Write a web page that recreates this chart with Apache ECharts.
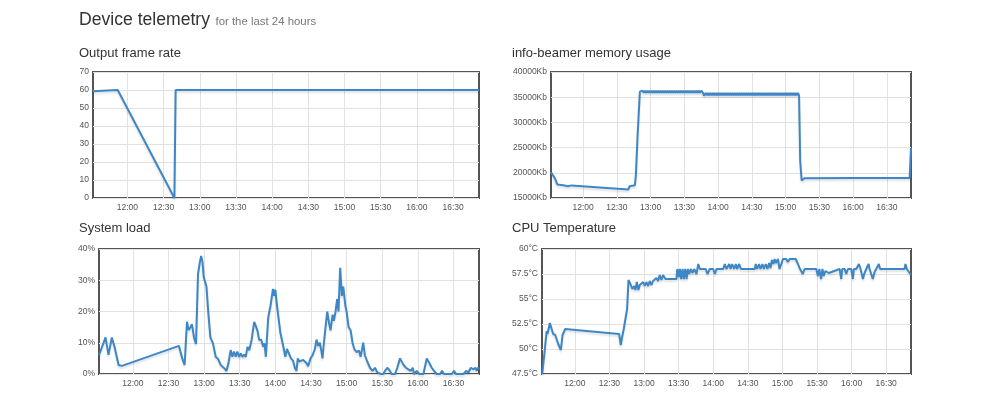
<!DOCTYPE html>
<html>
<head>
<meta charset="utf-8">
<script src="https://cdn.jsdelivr.net/npm/echarts@6/dist/echarts.min.js"></script>
<style>
html,body{margin:0;padding:0;background:#fff;}
#c{width:1000px;height:395px;}
</style>
</head>
<body>
<div id="c"></div>
<script>
// Time values are minutes since midnight
const timeTicks = [720, 750, 780, 810, 840, 870, 900, 930, 960, 990];
const xMin = 691.5, xMax = 1011.5;

const frameRate = [[691.5,59.3],[693,60],[712,60],[759,0],[760,60],[1011.5,60]];

const memoryKb = [
[691.5,20100],[695,18900],[697.1,17700],[702.4,17550],[706.8,17350],[708.3,17200],[709.7,17500],
[760.2,16700],[761.4,17350],[762.6,17500],[766.1,17550],[767,19700],[768.4,27000],[770.5,36100],
[771,36300],[772,35850],[773,36300],[774,35850],[775,36300],[776,35850],[777,36300],[778,35850],[779,36300],[780,35850],
[781,36300],[782,35850],[783,36300],[784,35850],[785,36300],[786,35850],[787,36300],[788,35850],[789,36300],[790,35850],
[791,36300],[792,35850],[793,36300],[794,35850],[795,36300],[796,35850],[797,36300],[798,35850],[799,36300],[800,35850],
[801,36300],[802,35850],[803,36300],[804,35850],[805,36300],[806,35850],[807,36300],[808,35850],[809,36300],[810,35850],
[811,36300],[812,35850],[813,36300],[814,35850],[815,36300],[816,35850],[817,36300],[818,35850],[819,36300],[820,35850],
[821,36300],[822,35850],[823,36300],[824,35850],[825,36300],[826.5,35900],[827.5,35300],
[829,35850],[830,35350],[831,35850],[832,35350],[833,35850],[834,35350],[835,35850],[836,35350],[837,35850],[838,35350],
[839,35850],[840,35350],[841,35850],[842,35350],[843,35850],[844,35350],[845,35850],[846,35350],[847,35850],[848,35350],
[849,35850],[850,35350],[851,35850],[852,35350],[853,35850],[854,35350],[855,35850],[856,35350],[857,35850],[858,35350],
[859,35850],[860,35350],[861,35850],[862,35350],[863,35850],[864,35350],[865,35850],[866,35350],[867,35850],[868,35350],
[869,35850],[870,35350],[871,35850],[872,35350],[873,35850],[874,35350],[875,35850],[876,35350],[877,35850],[878,35350],
[879,35850],[880,35350],[881,35850],[882,35350],[883,35850],[884,35350],[885,35850],[886,35350],[887,35850],[888,35350],
[889,35850],[890,35350],[891,35850],[892,35350],[893,35850],[894,35350],[895,35850],[896,35350],[897,35850],[898,35350],
[899,35850],[900,35350],[901,35850],[902,35350],[903,35850],[904,35350],[905,35850],[906,35350],[907,35850],[908,35350],
[909,35850],[910,35350],[911,35850],[912,35350],
[913,22400],[914.3,18500],[915.2,18200],[916.6,18900],[960,18950],[1010.3,18950],[1011.5,24900]
];

const systemLoad = [
[691.5,6],[697,11.7],[699.5,6.1],[702.3,11.7],[704.6,8.7],[708,2.9],[709.4,2.3],[710.8,2.6],[712.2,2],
[758.8,9],[761.6,5],[763.6,2.9],[765.6,16.7],[767,14.1],[768.4,14.9],[769.8,15.9],[771.5,11.7],[773.2,9.6],
[774.9,32],[776.3,35.5],[777.5,37.8],[778.6,36],[779.7,31],[780.8,31.5],[782,28],[783.6,19.4],[785.3,11.7],
[787.5,9.8],[789.8,5.5],[792,4.7],[794,2.9],[795.4,3.2],[797.1,1.8],[798.8,1],[800.5,3.4],[802.4,7.7],
[803.8,5.5],[805.2,7.2],[806.6,5.5],[808,7.2],[809.5,5.5],[810.9,6.6],[812.3,5.5],[813.7,6.2],[815.1,5.5],
[816.5,8.7],[818,7.6],[820,10.9],[822.2,16.7],[823.6,15.3],[825,13.8],[826.4,10.9],[828.1,11],[829.8,8.7],
[830.9,9.8],[832,5.5],[834,18],[836,22],[838,27.2],[839,25],[840,27],[841.4,21.9],[844.2,13.3],[846.5,9.2],
[848.4,5.5],[849.8,8],[851.2,7.7],[853.2,5],[854.9,4.3],[856.4,2],[857.8,1],[858.9,5],[860.2,4],[863.4,4.5],
[866.2,3.5],[867.6,2.5],[869.6,5],[871.3,6],[873.3,8],[874.7,11],[876.1,9],[877.5,10],[878.9,7],[879.7,5],
[880.9,10],[882.3,15],[883.7,20],[885.4,16],[886.5,14],[888.2,19],[889.3,17],[890.7,20],[892.1,24],[893.2,20],
[894.6,34],[896,25],[897.2,28],[898.9,22],[900,20],[901.7,15],[903.4,14],[905,10],[906.5,8],[908.4,7],
[910.4,7.5],[911.8,5.5],[914,10],[915.4,6],[917.4,4],[919.7,2],[921.9,1],[923.9,2],[925.9,0.5],[929,0],
[930.9,0],[932.3,1],[934.3,2],[936.5,1],[937.9,0],[940.8,0],[942.7,2],[945,5],[947.8,3],[950,2],[952,1.5],
[954,1],[955.7,2],[956.8,0],[959,1],[961.3,0],[964.7,0],[967.5,5],[969.7,3.5],[971.7,2],[973.7,1],[975.9,0],
[978.7,0],[980.4,1],[982.1,0],[988.6,0],[990.5,1],[992.2,0],[998.4,0],[1000.7,1],[1002.6,0.5],[1004.6,2],
[1006.8,1.5],[1008.5,2],[1009.6,1],[1010.8,2],[1011.5,1.5]
];

const cpuTemp = [
[691.7,47.5],[694,50],[695.5,51.8],[696.3,51.5],[697.2,52],[698.3,52.6],[699.8,52.4],[701.2,51.5],[703,51.4],
[705.6,50.5],[707.9,49.9],[709.3,51.4],[710.5,51.7],[711.6,52],
[758.4,51.5],[759.8,50.4],[761,51.2],[762.4,52],[763.9,52.2],[765.3,54],[766.5,56.9],[768.2,56.5],[769.9,56],
[771.4,56.3],[772.5,55.9],[773.7,56.7],[775.1,55.9],[776.3,56.4],[777.7,56.2],[779.2,56.7],[780.6,56.3],[782,56.7],
[783.5,56.3],[784.9,56.8],[786.4,56.4],[787.8,56.8],[789.3,56.6],[790.7,57.1],[792.2,56.8],[793.6,57.4],[795.1,56.9],
[796.5,57.4],[798.6,57],[808.1,57],[808.8,58],[810.2,57.2],[811.1,58],[812.2,57],[813.4,58],[814.5,57],[815.7,58],
[816.9,57],[818,58],[819.2,57.5],[820.6,58],[822.1,57.6],[823.5,58],[825.5,57.5],[827,58.5],[828.4,58],[833.5,58],
[835,57.5],[837,58],[839.9,58],[841.4,57.5],[842.8,58],[848.6,58],[850,58.5],[851.5,58],[853.8,58.5],[855,58],
[856.4,58.5],[858.1,58],[859.6,58.5],[860.7,58],[862.5,58.5],[864,58],[876,58],[876.9,58.5],[878.1,58],[879.8,58.5],
[881,58],[882.7,58.5],[883.9,58],[885.6,58.5],[887,58],[888.5,58.6],[889.7,58.1],[890.9,58.9],[892.3,58.5],[893.2,59],
[894.4,58.6],[896.1,59],[897.5,58],[899,58.5],[900.4,59],[903.3,59],[904.7,58.7],[905.1,58.5],[906.3,59],[911.5,59],
[913,59],[913.5,58.5],[914.6,58.6],[914.8,58.1],[916.3,58],[917.7,57.5],[919.2,58],[929.3,58],[930.8,57.3],[932,58],
[933.5,57],[934.7,58],[935.8,57.3],[937.3,57.8],[938.8,58],[940.2,57.6],[949.6,58],[951,57],[951.9,58],[954,58],
[955.3,57.5],[956.8,58],[959.7,58],[961.1,57],[962,58],[964,58],[966.3,58.5],[967.8,58],[969.8,57],[970.9,57.5],
[972.7,58],[974.7,58.5],[975.6,58],[977.3,58],[978.4,57],[979.9,57.7],[981.3,58],[983.6,58.5],[984.7,58],[1005.9,58],
[1006.7,58.5],[1007.9,58],[1009.6,58.1],[1011.5,57.4]
];

const LINE = '#3d87c7';
const TXT = '#545454';
const FONT = '"Liberation Sans", Arial, sans-serif';

function hhmm(v){
  const h = Math.floor(v/60), m = Math.round(v - h*60);
  return h + ':' + (m < 10 ? '0' + m : m);
}

const grids = [
  {left:93, top:72, width:386, height:126},
  {left:551, top:72, width:360, height:126},
  {left:99, top:249, width:380, height:125},
  {left:542, top:249, width:369, height:125}
].map(g => Object.assign(g, {show:true, borderColor:'#545454', borderWidth:2, backgroundColor:'transparent', containLabel:false, outerBoundsMode:'none'}));

function xAxis(i){
  return {
    type:'value', gridIndex:i, min:xMin, max:xMax,
    axisLine:{show:false},
    axisTick:{show:false, customValues:timeTicks},
    splitLine:{show:true, customValues:timeTicks, lineStyle:{color:'#e2e2e2', width:1}},
    axisLabel:{customValues:timeTicks, formatter:hhmm, color:TXT, fontSize:8.5, fontFamily:FONT, margin:5}
  };
}
function yAxis(i, min, max, interval, fmt){
  return {
    type:'value', gridIndex:i, min:min, max:max, interval:interval,
    axisLine:{show:false}, axisTick:{show:false},
    splitLine:{show:true, lineStyle:{color:'#e2e2e2', width:1}},
    axisLabel:{formatter:fmt, color:TXT, fontSize:8.5, fontFamily:FONT, margin:4}
  };
}
function series(i, data){
  return {
    type:'line', xAxisIndex:i, yAxisIndex:i, data:data, showSymbol:false, clip:false,
    lineStyle:{color:LINE, width:2, shadowColor:'rgba(0,0,0,0.13)', shadowBlur:2, shadowOffsetY:2},
    itemStyle:{color:LINE}, animation:false
  };
}
function title(text, x, baseline, size, color){
  return {type:'text', left:x, top:baseline - size*0.9, silent:true,
    style:{text:text, font:size + 'px ' + FONT, fill:color}};
}

const chart = echarts.init(document.getElementById('c'), null, {renderer:'canvas'});
chart.setOption({
  animation:false,
  backgroundColor:'#fff',
  graphic:[
    title('Device telemetry', 79, 26.7, 17.6, '#333'),
    title('for the last 24 hours', 215.5, 26.7, 11.4, '#777'),
    title('Output frame rate', 79, 58.3, 13, '#333'),
    title('info-beamer memory usage', 512, 58.3, 13, '#333'),
    title('System load', 79, 233.3, 13, '#333'),
    title('CPU Temperature', 512, 233.3, 13, '#333')
  ],
  grid:grids,
  xAxis:[xAxis(0), xAxis(1), xAxis(2), xAxis(3)],
  yAxis:[
    yAxis(0, 0, 70, 10, v => String(v)),
    yAxis(1, 15000, 40000, 5000, v => v + 'Kb'),
    yAxis(2, 0, 40, 10, v => v + '%'),
    yAxis(3, 47.5, 60, 2.5, v => v + '°C')
  ],
  series:[series(0, frameRate), series(1, memoryKb), series(2, systemLoad), series(3, cpuTemp)]
});
</script>
</body>
</html>
